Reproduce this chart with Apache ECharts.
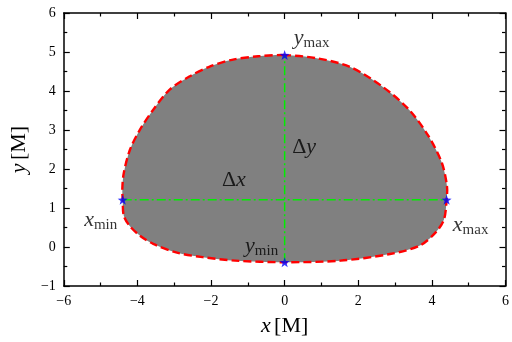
<!DOCTYPE html>
<html>
<head>
<meta charset="utf-8">
<script src="https://cdn.jsdelivr.net/npm/echarts@6/dist/echarts.min.js"></script>
<style>
  html, body { margin: 0; padding: 0; background: #fff; }
  #chart { width: 512px; height: 342px; }
</style>
</head>
<body>
<div id="chart"></div>
<script>
// Shadow boundary (x, y) in units of M, traced counter-clockwise from the top
const boundaryX = [0, -0.72, -1.43, -2.05, -2.59, -3.13, -3.57, -3.93, -4.2, -4.37, -4.41, -4.40,
  -4.37, -4.21, -3.93, -3.57, -2.95, -2.23, -1.34, 0,
  1.52, 2.86, 3.66, 4.11, 4.33, 4.40,
  4.41, 4.27, 3.91, 3.38, 2.66, 1.77, 0.87];
const boundaryY = [4.92, 4.89, 4.8, 4.62, 4.37, 4.03, 3.52, 3.01, 2.5, 1.9, 1.5, 1.21,
  0.8, 0.54, 0.29, 0.08, -0.14, -0.26, -0.35, -0.39,
  -0.35, -0.18, 0.03, 0.38, 0.71, 1.21,
  1.56, 2.16, 2.84, 3.52, 4.11, 4.62, 4.84];

// Extreme points of the shadow
const extremeNames = ['xmin', 'xmax', 'ymax', 'ymin'];
const extremeX = [-4.40, 4.40, 0, 0];
const extremeY = [1.21, 1.21, 4.92, -0.39];

// Axis ranges and tick steps
const xRange = [-6, 6];
const yRange = [-1, 6];
const xStep = 2;
const yStep = 1;

const boundary = boundaryX.map((x, i) => [x, boundaryY[i]]);
const extremes = extremeX.map((x, i) => [x, extremeY[i]]);

const serif = 'Liberation Serif';
const starPath = 'path://M0,-10L2.35,-3.24L9.51,-3.09L3.8,1.24L5.88,8.09L0,4L-5.88,8.09L-3.8,1.24L-9.51,-3.09L-2.35,-3.24Z';

const minus = v => String(v).replace('-', '\u2212');

function axisBase(extra) {
  return Object.assign({
    type: 'value',
    axisLine: { show: true, onZero: false, lineStyle: { color: '#000', width: 1.5 } },
    axisTick: { show: true, inside: true, length: 6, lineStyle: { color: '#000', width: 1.2 } },
    minorTick: { show: true, splitNumber: 2, length: 3.5, lineStyle: { color: '#000', width: 1.2 } },
    splitLine: { show: false },
    axisLabel: { color: '#000', fontFamily: serif, fontSize: 14, formatter: minus }
  }, extra);
}

const labelRich = {
  i: { fontFamily: serif, fontStyle: 'italic', fontSize: 22, color: '#000' },
  s: { fontFamily: serif, fontSize: 15, color: '#000', padding: [10, 0, 0, 0] },
  n: { fontFamily: serif, fontSize: 22, color: '#000' }
};

const extremeLabels = {
  xmin: { text: '{i|x}{s|min}', offset: [-22, 20] },
  xmax: { text: '{i|x}{s|max}', offset: [24, 25] },
  ymax: { text: '{i|y}{s|max}', offset: [27, -17] },
  ymin: { text: '{i|y}{s|min}', offset: [-23, -16] }
};

const chart = echarts.init(document.getElementById('chart'));
chart.setOption({
  animation: false,
  backgroundColor: '#fff',
  grid: { left: 62, right: 2, top: 13, bottom: 55 },
  xAxis: [
    axisBase({
      min: xRange[0], max: xRange[1], interval: xStep, position: 'bottom',
      name: '{i|x} {n|[M]}', nameLocation: 'middle', nameGap: 29,
      nameTextStyle: { rich: labelRich }
    }),
    axisBase({ min: xRange[0], max: xRange[1], interval: xStep, position: 'top', axisLabel: { show: false } })
  ],
  yAxis: [
    axisBase({
      min: yRange[0], max: yRange[1], interval: yStep, position: 'left',
      name: '{i|y} {n|[M]}', nameLocation: 'middle', nameGap: 30,
      nameTextStyle: { rich: labelRich }
    }),
    axisBase({ min: yRange[0], max: yRange[1], interval: yStep, position: 'right', axisLabel: { show: false } })
  ],
  series: [
    {
      // filled shadow with dashed red rim
      type: 'custom',
      data: boundary,
      z: 2,
      renderItem: function (params, api) {
        if (params.dataIndex !== 0) return null;
        const pts = boundary.map(p => api.coord(p));
        return {
          type: 'polygon',
          shape: { points: pts, smooth: 0.3 },
          style: { fill: '#808080', stroke: '#ff0000', lineWidth: 2.4, lineDash: [8, 4] }
        };
      }
    },
    {
      type: 'line',
      data: [extremes[0], extremes[1]],
      symbol: 'none',
      z: 3,
      lineStyle: { color: '#00ee00', width: 1.5, type: [9, 3, 2, 3] }
    },
    {
      type: 'line',
      data: [extremes[3], extremes[2]],
      symbol: 'none',
      z: 3,
      lineStyle: { color: '#00ee00', width: 1.5, type: [9, 3, 2, 3] }
    },
    {
      type: 'scatter',
      z: 5,
      symbol: starPath,
      symbolSize: 10,
      itemStyle: { color: '#0000ff' },
      data: extremes.map((p, i) => ({
        value: p,
        label: {
          show: true,
          position: 'inside',
          offset: extremeLabels[extremeNames[i]].offset,
          formatter: extremeLabels[extremeNames[i]].text,
          rich: labelRich
        }
      }))
    },
    {
      // Δx and Δy annotations
      type: 'scatter',
      z: 5,
      symbolSize: 0,
      data: [
        { value: [-1.38, 1.70], label: { show: true, position: 'inside', formatter: '{n|\u0394}{i|x}', rich: labelRich } },
        { value: [0.53, 2.55], label: { show: true, position: 'inside', formatter: '{n|\u0394}{i|y}', rich: labelRich } }
      ]
    }
  ]
});
</script>
</body>
</html>
